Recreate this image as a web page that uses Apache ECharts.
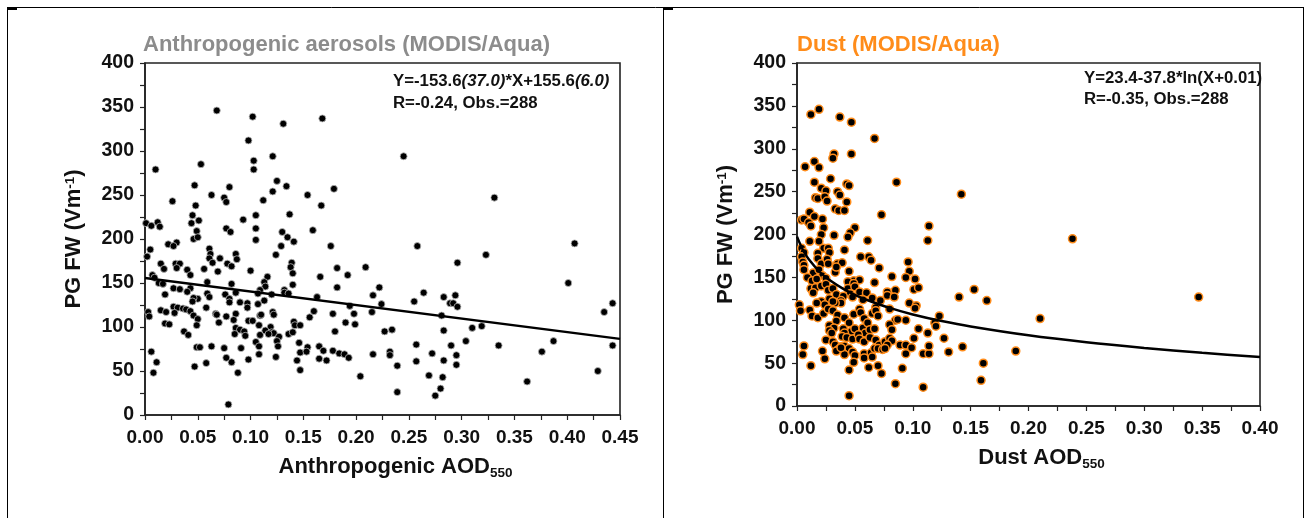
<!DOCTYPE html>
<html>
<head>
<meta charset="utf-8">
<script src="https://cdn.jsdelivr.net/npm/echarts@6/dist/echarts.min.js"></script>
<style>
  html, body { margin: 0; padding: 0; background: #fff; }
  #main { width: 1306px; height: 518px; }
</style>
</head>
<body>
<div id="main"></div>
<script>
// Anthropogenic AOD vs PG FW (left panel)
const anthroPts = [
  [0.068,346],[0.102,339],[0.168,337],[0.131,331],[0.098,312],[0.245,294],[0.103,289],[0.121,294],
  [0.053,285],[0.010,279],[0.103,279],[0.125,266],[0.134,260],[0.047,261],[0.080,259],[0.179,257],
  [0.063,250],[0.154,250],[0.331,247],[0.026,243],[0.075,247],[0.077,242],[0.112,244],[0.167,238],
  [0.048,238],[0.121,254],[0.137,228],[0.105,227],[0.045,227],[0.001,218],[0.012,219],[0.006,215],
  [0.014,214],[0.044,218],[0.051,221],[0.077,212],[0.081,208],[0.093,222],[0.105,212],[0.159,210],
  [0.049,209],[0.130,208],[0.046,200],[0.050,202],[0.105,199],[0.135,202],[0.141,197],[0.022,194],
  [0.030,196],[0.005,188],[0.176,192],[0.258,192],[0.407,195],[0.129,192],[0.027,192],[0.061,189],
  [0.002,180],[0.062,183],[0.124,182],[0.086,183],[0.061,178],[0.071,178],[0.078,172],[0.087,177],
  [0.064,173],[0.139,173],[0.296,173],[0.323,182],[0.015,172],[0.029,172],[0.033,172],[0.030,167],
  [0.082,169],[0.138,168],[0.182,167],[0.209,168],[0.018,166],[0.056,166],[0.069,163],[0.040,165],
  [0.100,164],[0.140,161],[0.166,157],[0.192,159],[0.043,159],[0.007,159],[0.116,157],[0.059,151],
  [0.013,150],[0.017,149],[0.401,150],[0.113,151],[0.082,149],[0.009,156],[0.114,146],[0.140,148],
  [0.182,145],[0.222,145],[0.109,142],[0.132,142],[0.132,139],[0.136,138],[0.043,144],[0.027,144],
  [0.033,143],[0.040,140],[0.059,138],[0.076,137],[0.107,138],[0.120,137],[0.086,139],[0.019,137],
  [0.264,139],[0.216,136],[0.283,134],[0.294,136],[0.163,134],[0.061,134],[0.050,132],[0.046,133],
  [0.080,132],[0.113,130],[0.080,128],[0.090,128],[0.045,129],[0.255,129],[0.289,127],[0.292,127],
  [0.296,123],[0.107,126],[0.224,126],[0.097,127],[0.194,124],[0.027,123],[0.031,122],[0.036,121],
  [0.039,120],[0.043,118],[0.015,119],[0.020,117],[0.003,117],[0.004,112],[0.028,116],[0.058,122],
  [0.067,115],[0.068,114],[0.086,115],[0.097,122],[0.109,113],[0.110,114],[0.121,117],[0.122,114],
  [0.160,118],[0.178,115],[0.198,115],[0.215,117],[0.281,113],[0.435,117],[0.443,127],[0.156,111],
  [0.046,113],[0.050,109],[0.070,105],[0.077,112],[0.084,108],[0.098,107],[0.102,107],[0.141,106],
  [0.142,102],[0.147,102],[0.019,104],[0.023,103],[0.199,103],[0.049,102],[0.108,102],[0.119,100],
  [0.109,91],[0.086,99],[0.090,97],[0.094,95],[0.114,96],[0.120,94],[0.122,93],[0.136,92],
  [0.140,94],[0.180,95],[0.190,105],[0.227,95],[0.234,97],[0.283,96],[0.310,99],[0.319,101],
  [0.037,95],[0.041,91],[0.095,90],[0.085,92],[0.117,92],[0.127,89],[0.105,83],[0.146,82],
  [0.125,84],[0.304,84],[0.387,84],[0.049,77],[0.052,77],[0.063,78],[0.075,76],[0.091,76],
  [0.108,78],[0.126,78],[0.154,77],[0.165,78],[0.257,80],[0.290,79],[0.335,79],[0.443,79],
  [0.147,71],[0.153,72],[0.169,73],[0.178,73],[0.184,70],[0.189,69],[0.193,65],[0.006,72],
  [0.216,69],[0.232,72],[0.232,68],[0.272,70],[0.295,68],[0.376,72],[0.011,60],[0.082,60],
  [0.058,59],[0.108,69],[0.124,66],[0.098,63],[0.077,65],[0.144,62],[0.165,64],[0.172,62],
  [0.257,61],[0.283,62],[0.047,55],[0.147,51],[0.239,56],[0.295,57],[0.008,48],[0.088,48],
  [0.429,50],[0.204,44],[0.269,45],[0.282,43],[0.362,38],[0.280,30],[0.239,26],[0.275,22],
  [0.079,12]
];

// Dust AOD vs PG FW (right panel)
const dustPts = [
  [0.019,346],[0.012,340],[0.037,337],[0.047,331],[0.067,312],[0.032,294],[0.047,294],[0.031,289],
  [0.007,279],[0.015,285],[0.019,278],[0.029,265],[0.015,261],[0.086,261],[0.021,254],[0.025,251],
  [0.035,250],[0.043,259],[0.045,257],[0.037,246],[0.142,247],[0.016,243],[0.018,242],[0.024,244],
  [0.026,239],[0.043,238],[0.033,230],[0.036,228],[0.041,228],[0.073,223],[0.011,226],[0.004,217],
  [0.006,218],[0.015,221],[0.010,214],[0.012,210],[0.022,218],[0.023,208],[0.114,210],[0.050,208],
  [0.046,202],[0.044,197],[0.021,200],[0.032,199],[0.011,192],[0.061,193],[0.113,193],[0.238,195],
  [0.019,192],[0.004,184],[0.006,179],[0.023,184],[0.027,184],[0.041,182],[0.018,178],[0.028,179],
  [0.055,174],[0.062,174],[0.064,170],[0.096,168],[0.004,174],[0.005,168],[0.006,164],[0.018,172],
  [0.021,166],[0.026,171],[0.027,166],[0.035,166],[0.039,167],[0.071,161],[0.006,159],[0.014,155],
  [0.019,159],[0.033,156],[0.034,162],[0.045,157],[0.097,157],[0.009,150],[0.013,146],[0.022,152],
  [0.025,149],[0.017,148],[0.049,146],[0.054,147],[0.067,144],[0.082,151],[0.094,150],[0.102,148],
  [0.012,137],[0.016,138],[0.014,132],[0.021,140],[0.025,142],[0.027,135],[0.031,137],[0.044,145],
  [0.049,143],[0.044,137],[0.050,139],[0.054,133],[0.060,132],[0.065,126],[0.078,133],[0.085,135],
  [0.101,136],[0.105,138],[0.153,136],[0.078,129],[0.084,127],[0.140,127],[0.164,123],[0.347,127],
  [0.046,131],[0.048,127],[0.034,130],[0.040,128],[0.028,125],[0.021,122],[0.024,118],[0.017,120],
  [0.038,123],[0.038,120],[0.033,120],[0.031,122],[0.057,124],[0.072,123],[0.097,120],[0.103,117],
  [0.102,114],[0.002,118],[0.003,111],[0.011,112],[0.013,105],[0.018,103],[0.023,108],[0.027,113],
  [0.031,111],[0.035,106],[0.034,99],[0.041,103],[0.049,107],[0.054,113],[0.055,109],[0.058,102],
  [0.065,108],[0.068,115],[0.068,111],[0.070,105],[0.080,113],[0.085,100],[0.087,101],[0.094,100],
  [0.119,97],[0.120,93],[0.123,105],[0.210,102],[0.028,94],[0.032,91],[0.028,88],[0.030,85],
  [0.040,90],[0.045,97],[0.047,87],[0.050,90],[0.057,91],[0.059,85],[0.061,97],[0.063,89],
  [0.067,90],[0.080,95],[0.082,89],[0.041,85],[0.039,81],[0.043,80],[0.048,78],[0.053,83],
  [0.054,78],[0.058,75],[0.063,80],[0.068,77],[0.071,71],[0.076,75],[0.080,79],[0.082,76],
  [0.078,71],[0.101,79],[0.105,90],[0.113,85],[0.127,79],[0.025,77],[0.031,75],[0.033,71],
  [0.036,66],[0.038,69],[0.041,70],[0.045,67],[0.048,63],[0.050,59],[0.049,51],[0.041,60],
  [0.034,64],[0.038,68],[0.022,64],[0.006,70],[0.005,60],[0.024,55],[0.012,47],[0.058,61],
  [0.058,56],[0.064,62],[0.065,57],[0.067,67],[0.070,67],[0.074,66],[0.076,67],[0.089,71],
  [0.094,71],[0.094,61],[0.099,68],[0.109,61],[0.114,61],[0.114,70],[0.131,63],[0.143,69],
  [0.189,64],[0.062,45],[0.070,47],[0.073,38],[0.045,42],[0.091,44],[0.161,50],[0.085,26],
  [0.159,30],[0.109,22],[0.045,12]
];

// fitted curves
const anthroFitX = [0, 0.45];
const anthroFitY = [155.6, 86.5];
const dustFitX = [0, 0.005, 0.01, 0.02, 0.03, 0.04, 0.05, 0.06, 0.08, 0.10, 0.125, 0.15, 0.20, 0.25, 0.30, 0.35, 0.40];
const dustFitY = [197.5, 182.2, 171.3, 155.9, 145.1, 136.6, 129.7, 123.9, 114.4, 106.8, 99.1, 92.7, 82.4, 74.3, 67.7, 62.0, 57.1];

const yMin = 0, yMax = 400, yStep = 50;
const xStep = 0.05;
const anthroXMax = 0.45;
const dustXMax = 0.40;

const FONT = '"Liberation Sans", Arial, sans-serif';
const AXIS_COLOR = '#222';

const chart = echarts.init(document.getElementById('main'), null, { renderer: 'canvas' });

function makeX(gridIndex, max, nameRich) {
  return {
    type: 'value', gridIndex, min: 0, max, interval: xStep,
    axisLine: { show: true, onZero: false, lineStyle: { color: AXIS_COLOR, width: 1.6 } },
    axisTick: { show: true, length: 5, lineStyle: { color: AXIS_COLOR, width: 1.2 } },
    minorTick: { show: true, splitNumber: 2, length: 5, lineStyle: { color: AXIS_COLOR, width: 1.2 } },
    splitLine: { show: false },
    axisLabel: {
      margin: 13, color: '#111', fontFamily: FONT, fontWeight: 'bold', fontSize: 19,
      formatter: v => v.toFixed(2)
    },
    name: nameRich, nameLocation: 'middle', nameGap: 41,
    nameTextStyle: {
      fontFamily: FONT, color: '#111', padding: [0, 0, 0, 26],
      rich: {
        m: { fontSize: 22, fontWeight: 'bold', fontFamily: FONT, color: '#111', lineHeight: 24, verticalAlign: 'top' },
        s: { fontSize: 13.5, fontWeight: 'bold', fontFamily: FONT, color: '#111', lineHeight: 6, verticalAlign: 'bottom' }
      }
    }
  };
}

function makeY(gridIndex) {
  return {
    type: 'value', gridIndex, min: yMin, max: yMax, interval: yStep,
    axisLine: { show: true, onZero: false, lineStyle: { color: AXIS_COLOR, width: 1.6 } },
    axisTick: { show: true, length: 5, lineStyle: { color: AXIS_COLOR, width: 1.2 } },
    minorTick: { show: true, splitNumber: 2, length: 5, lineStyle: { color: AXIS_COLOR, width: 1.2 } },
    splitLine: { show: false },
    axisLabel: { margin: 11, color: '#111', fontFamily: FONT, fontWeight: 'bold', fontSize: 19.5 },
    name: '{m|PG FW (Vm}{p|-1}{m|)}', nameLocation: 'middle', nameGap: 58, nameRotate: 90,
    nameTextStyle: {
      fontFamily: FONT, color: '#111',
      rich: {
        m: { fontSize: 22, fontWeight: 'bold', fontFamily: FONT, color: '#111', lineHeight: 24, verticalAlign: 'top' },
        p: { fontSize: 13.5, fontWeight: 'bold', fontFamily: FONT, color: '#111', lineHeight: 10, verticalAlign: 'top' }
      }
    }
  };
}

const option = {
  backgroundColor: '#fff',
  animation: false,
  grid: [
    { left: 145, top: 63, width: 475, height: 352, show: true, borderColor: AXIS_COLOR, borderWidth: 1.6, backgroundColor: 'transparent' },
    { left: 797, top: 63, width: 463, height: 343, show: true, borderColor: AXIS_COLOR, borderWidth: 1.6, backgroundColor: 'transparent' }
  ],
  xAxis: [
    makeX(0, anthroXMax, '{m|Anthropogenic AOD}{s|550}'),
    makeX(1, dustXMax, '{m|Dust AOD}{s|550}')
  ],
  yAxis: [makeY(0), makeY(1)],
  series: [
    {
      type: 'scatter', xAxisIndex: 0, yAxisIndex: 0, data: anthroPts,
      symbolSize: 7,
      itemStyle: { color: '#000', borderColor: '#bbb', borderWidth: 0.8, opacity: 1 }
    },
    {
      type: 'line', xAxisIndex: 0, yAxisIndex: 0,
      data: anthroFitX.map((x, i) => [x, anthroFitY[i]]),
      showSymbol: false, lineStyle: { color: '#000', width: 2.5 }, z: 3
    },
    {
      type: 'scatter', xAxisIndex: 1, yAxisIndex: 1, data: dustPts,
      symbolSize: 8,
      itemStyle: { color: '#000', borderColor: '#ff8c1a', borderWidth: 1.5, opacity: 1 }
    },
    {
      type: 'line', xAxisIndex: 1, yAxisIndex: 1,
      data: dustFitX.map((x, i) => [x, dustFitY[i]]),
      showSymbol: false, smooth: 0.3, lineStyle: { color: '#000', width: 2.5 }, z: 3
    }
  ],
  graphic: [
    // outer frame
    { type: 'line', shape: { x1: 7, y1: 7.5, x2: 1304, y2: 7.5 }, style: { stroke: '#000', lineWidth: 1 } },
    { type: 'line', shape: { x1: 7.5, y1: 7, x2: 7.5, y2: 518 }, style: { stroke: '#000', lineWidth: 1 } },
    { type: 'line', shape: { x1: 663.5, y1: 7, x2: 663.5, y2: 518 }, style: { stroke: '#000', lineWidth: 1 } },
    { type: 'line', shape: { x1: 1303.5, y1: 7, x2: 1303.5, y2: 518 }, style: { stroke: '#000', lineWidth: 1 } },
    { type: 'rect', shape: { x: 8, y: 8, width: 9, height: 2 }, style: { fill: '#000' } },
    { type: 'rect', shape: { x: 664, y: 8, width: 9, height: 2 }, style: { fill: '#000' } },
    // titles
    { type: 'text', left: 143, top: 34, style: { text: 'Anthropogenic aerosols (MODIS/Aqua)', font: 'bold 22px ' + FONT, fill: '#8c8c8c' } },
    { type: 'text', left: 797, top: 34, style: { text: 'Dust (MODIS/Aqua)', font: 'bold 22px ' + FONT, fill: '#ff8c1a' } },
    // fit annotations
    {
      type: 'text', left: 393, top: 73,
      style: {
        text: '{b|Y=-153.6}{i|(37.0)}{b|*X+155.6}{i|(6.0)}',
        rich: {
          b: { font: 'bold 16.8px ' + FONT, fill: '#111' },
          i: { font: 'italic bold 16.8px ' + FONT, fill: '#111' }
        }
      }
    },
    { type: 'text', left: 393, top: 95, style: { text: 'R=-0.24, Obs.=288', font: 'bold 16.8px ' + FONT, fill: '#111' } },
    { type: 'text', left: 1084, top: 70, style: { text: 'Y=23.4-37.8*ln(X+0.01)', font: 'bold 16.8px ' + FONT, fill: '#111' } },
    { type: 'text', left: 1084, top: 91, style: { text: 'R=-0.35, Obs.=288', font: 'bold 16.8px ' + FONT, fill: '#111' } }
  ]
};

chart.setOption(option);
</script>
</body>
</html>
